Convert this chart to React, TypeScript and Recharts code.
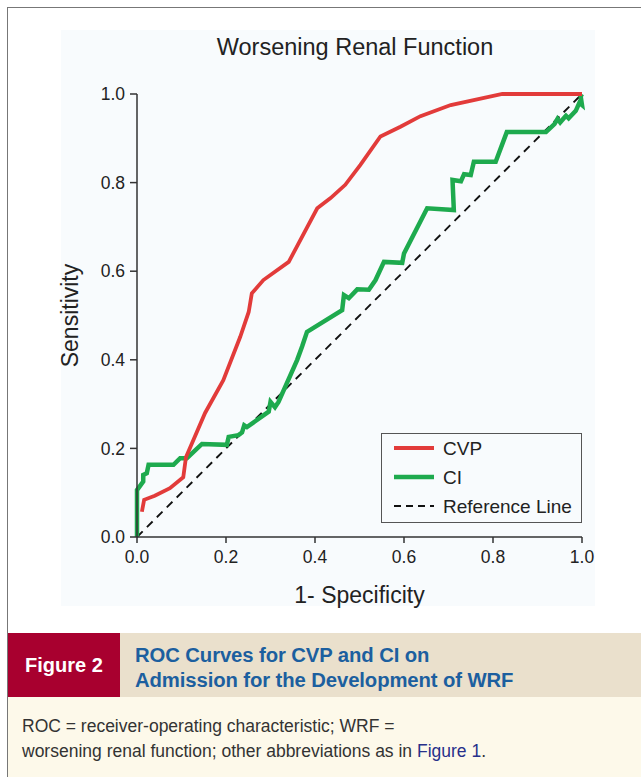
import { Line, LineChart, XAxis, YAxis, Label } from 'recharts';

// ROC points (1 - specificity, sensitivity)
const cvpFpr = [0.011, 0.016, 0.04, 0.074, 0.104, 0.11, 0.153, 0.194, 0.232, 0.251, 0.258, 0.284, 0.341, 0.405, 0.435, 0.468, 0.502, 0.547, 0.592, 0.637, 0.705, 0.821, 1.0];
const cvpTpr = [0.057, 0.084, 0.093, 0.11, 0.135, 0.18, 0.28, 0.354, 0.452, 0.508, 0.55, 0.58, 0.621, 0.742, 0.765, 0.795, 0.84, 0.904, 0.926, 0.95, 0.975, 1.0, 1.0];

const ciFpr = [0, 0, 0.014, 0.014, 0.022, 0.026, 0.082, 0.097, 0.112, 0.146, 0.202, 0.206, 0.228, 0.236, 0.241, 0.247, 0.296, 0.3, 0.31, 0.318, 0.36, 0.371, 0.382, 0.461, 0.465, 0.476, 0.495, 0.521, 0.536, 0.555, 0.596, 0.6, 0.652, 0.712, 0.709, 0.728, 0.735, 0.75, 0.757, 0.806, 0.831, 0.919, 0.938, 0.945, 0.951, 0.964, 0.97, 0.986, 0.994, 1.0, 0.997, 1.0];
const ciTpr = [0, 0.106, 0.125, 0.14, 0.144, 0.163, 0.163, 0.178, 0.178, 0.21, 0.208, 0.226, 0.23, 0.236, 0.252, 0.248, 0.283, 0.305, 0.293, 0.305, 0.4, 0.43, 0.463, 0.512, 0.546, 0.539, 0.559, 0.558, 0.58, 0.621, 0.619, 0.64, 0.742, 0.738, 0.806, 0.803, 0.819, 0.817, 0.847, 0.847, 0.914, 0.914, 0.932, 0.944, 0.936, 0.951, 0.945, 0.962, 0.98, 0.975, 0.995, 1.0];

const refFpr = [0, 1];
const refTpr = [0, 1];

const ticks = [0, 0.2, 0.4, 0.6, 0.8, 1.0];

const toPoints = (xs: number[], ys: number[]) => xs.map((x, i) => ({ x, y: ys[i] }));

const cvpData = toPoints(cvpFpr, cvpTpr);
const ciData = toPoints(ciFpr, ciTpr);
const refData = toPoints(refFpr, refTpr);

const RED = '#e23b3a';
const GREEN = '#1eaa4e';
const FONT = '"Liberation Sans", Arial, Helvetica, sans-serif';

function LegendBox() {
  const rows = [
    { name: 'CVP', color: RED, dash: undefined, w: 4 },
    { name: 'CI', color: GREEN, dash: undefined, w: 4.5 },
    { name: 'Reference Line', color: '#111', dash: '7 5', w: 1.8 },
  ];
  return (
    <div style={{ position: 'absolute', left: 381, top: 433, width: 199, height: 88, border: '1.5px solid #555', background: '#f8fbfd' }}>
      <svg width={199} height={88} style={{ display: 'block' }}>
        {rows.map((r, i) => (
          <g key={r.name}>
            <line x1={12} x2={52} y1={14 + i * 29} y2={14 + i * 29} stroke={r.color} strokeWidth={r.w} strokeDasharray={r.dash} />
            <text x={61} y={14 + i * 29} dy="0.35em" fontFamily={FONT} fontSize={19} fill="#222">{r.name}</text>
          </g>
        ))}
      </svg>
    </div>
  );
}

export default function App() {
  return (
    <div style={{ position: 'absolute', left: 0, top: 0, width: 641, height: 777, background: '#fff', overflow: 'hidden', fontFamily: FONT }}>
      {/* figure frame */}
      <div style={{ position: 'absolute', left: 7, top: 7, width: 660, height: 800, borderLeft: '1.5px solid #777', borderTop: '1.5px solid #777' }} />
      {/* light plot panel */}
      <div style={{ position: 'absolute', left: 61, top: 30, width: 534, height: 576, background: '#f8fbfd' }} />
      <div style={{ position: 'absolute', left: 0, width: 710, top: 34, textAlign: 'center', fontSize: 23.5, color: '#222' }}>
        Worsening Renal Function
      </div>

      <div style={{ position: 'absolute', left: 0, top: 0 }}>
        <LineChart width={641} height={620} margin={{ top: 94, right: 59, bottom: 23, left: 57 }}>
          <XAxis
            type="number"
            dataKey="x"
            domain={[0, 1]}
            ticks={ticks}
            tickFormatter={(v: number) => v.toFixed(1)}
            height={60}
            tickSize={6}
            tickMargin={8}
            stroke="#333"
            strokeWidth={1.5}
            fontSize={17.5}
            tick={{ fill: '#222', fontSize: 17.5, fontFamily: FONT }}
            allowDuplicatedCategory={false}
          >
            <Label value="1- Specificity" position="insideBottom" offset={-6} style={{ fill: '#222', fontSize: 23, fontFamily: FONT }} />
          </XAxis>
          <YAxis
            type="number"
            dataKey="y"
            domain={[0, 1]}
            ticks={ticks}
            tickFormatter={(v: number) => v.toFixed(1)}
            width={80}
            tickSize={7}
            tickMargin={5}
            stroke="#333"
            strokeWidth={1.5}
            fontSize={17.5}
            tick={{ fill: '#222', fontSize: 17.5, fontFamily: FONT }}
          >
            <Label value="Sensitivity" angle={-90} position="insideLeft" offset={13} style={{ fill: '#222', fontSize: 23, fontFamily: FONT, textAnchor: 'middle' }} />
          </YAxis>
          <Line data={refData} dataKey="y" type="linear" stroke="#111" strokeWidth={1.9} strokeDasharray="8 6" dot={false} isAnimationActive={false} />
          <Line data={ciData} dataKey="y" type="linear" stroke={GREEN} strokeWidth={4.5} dot={false} isAnimationActive={false} strokeLinejoin="miter" />
          <Line data={cvpData} dataKey="y" type="linear" stroke={RED} strokeWidth={3.8} dot={false} isAnimationActive={false} />
        </LineChart>
      </div>
      <LegendBox />

      {/* caption band */}
      <div style={{ position: 'absolute', left: 8, top: 633, width: 112, height: 64, background: '#a8002f', color: '#fff', fontWeight: 'bold', fontSize: 20, display: 'flex', alignItems: 'center', justifyContent: 'center' }}>
        Figure 2
      </div>
      <div style={{ position: 'absolute', left: 120, top: 633, width: 521, height: 64, background: '#eae0cc', color: '#1c5f9f', fontWeight: 'bold', fontSize: 20.3, lineHeight: '25px', boxSizing: 'border-box', padding: '10px 0 0 15px', letterSpacing: -0.1 }}>
        ROC Curves for CVP and CI on<br />Admission for the Development of WRF
      </div>
      <div style={{ position: 'absolute', left: 8, top: 697, width: 633, height: 80, background: '#fdf9ea', color: '#333', fontSize: 17.5, lineHeight: '25px', boxSizing: 'border-box', padding: '17px 0 0 14px' }}>
        ROC = receiver-operating characteristic; WRF =<br />worsening renal function; other abbreviations as in <span style={{ color: '#27308a' }}>Figure 1</span>.
      </div>
    </div>
  );
}
